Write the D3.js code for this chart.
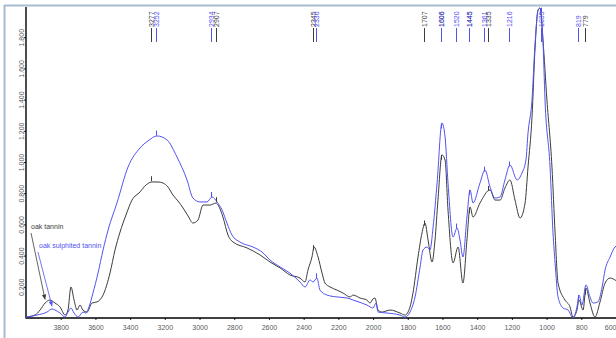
<!DOCTYPE html>
<html>
<head>
<meta charset="utf-8">
<script src="https://cdn.jsdelivr.net/npm/d3@7"></script>
<style>
  body { margin: 0; background: #fff; }
  svg { display: block; font-family: Arial, "Liberation Sans", sans-serif; }
</style>
</head>
<body>
<div id="chart"></div>
<script>
// spectra, [wavenumber cm-1, absorbance]
var oakTannin = [
  [4000,0.006],[3948,0.019],[3919,0.051],[3890,0.096],[3862,0.115],[3833,0.096],[3804,0.071],
  [3775,0.019],[3758,0.051],[3741,0.199],[3723,0.115],[3706,0.051],[3689,0.083],[3672,0.051],
  [3648,0.038],[3620,0.096],[3591,0.103],[3556,0.147],[3516,0.288],[3487,0.436],[3458,0.551],
  [3424,0.660],[3389,0.756],[3343,0.808],[3308,0.853],[3274,0.872],[3239,0.872],[3210,0.865],
  [3182,0.840],[3153,0.788],[3124,0.750],[3095,0.705],[3066,0.654],[3038,0.609],[3009,0.628],
  [2980,0.724],[2940,0.724],[2905,0.737],[2893,0.724],[2865,0.647],[2836,0.532],[2807,0.487],
  [2726,0.449],[2651,0.404],[2594,0.359],[2536,0.321],[2479,0.276],[2421,0.256],[2392,0.231],
  [2375,0.308],[2352,0.391],[2340,0.455],[2317,0.391],[2294,0.288],[2277,0.224],[2248,0.199],
  [2208,0.179],[2173,0.160],[2133,0.135],[2115,0.147],[2075,0.128],[2035,0.115],[2018,0.096],
  [2000,0.122],[1989,0.128],[1971,0.051],[1948,0.038],[1902,0.051],[1845,0.032],[1816,0.019],
  [1787,0.071],[1770,0.160],[1741,0.391],[1718,0.545],[1701,0.609],[1683,0.500],[1660,0.359],
  [1643,0.500],[1626,0.756],[1603,1.045],[1585,1.013],[1568,0.692],[1539,0.353],[1510,0.455],
  [1482,0.224],[1459,0.500],[1441,0.712],[1424,0.647],[1384,0.737],[1326,0.821],[1297,0.756],
  [1268,0.756],[1240,0.833],[1211,0.885],[1182,0.756],[1153,0.641],[1124,0.737],[1107,0.968],
  [1084,1.288],[1067,1.718],[1049,1.974],[1038,1.987],[1021,1.782],[998,1.397],[969,0.968],
  [951,0.545],[934,0.224],[894,0.115],[865,0.071],[848,0.006],[825,0.051],[813,0.115],
  [790,0.051],[773,0.192],[750,0.096],[721,0.006],[692,0.103],[663,0.224],[634,0.256],[600,0.240]
];

var oakSulphited = [
  [4000,0.006],[3937,0.019],[3879,0.038],[3850,0.058],[3833,0.051],[3804,0.032],[3775,0.006],
  [3758,0.038],[3741,0.064],[3723,0.032],[3700,0.006],[3672,0.038],[3654,0.032],[3637,0.071],
  [3614,0.160],[3585,0.288],[3556,0.436],[3527,0.564],[3476,0.737],[3412,0.968],[3343,1.090],
  [3297,1.135],[3245,1.167],[3187,1.141],[3130,1.032],[3072,0.885],[3038,0.769],[2997,0.744],
  [2957,0.744],[2928,0.776],[2899,0.744],[2870,0.692],[2842,0.609],[2813,0.532],[2767,0.487],
  [2692,0.455],[2640,0.423],[2594,0.372],[2536,0.327],[2479,0.288],[2421,0.231],[2392,0.199],
  [2363,0.244],[2346,0.231],[2323,0.256],[2306,0.179],[2265,0.147],[2208,0.135],[2150,0.128],
  [2115,0.115],[2035,0.083],[2000,0.064],[1983,0.096],[1971,0.038],[1920,0.032],[1845,0.019],
  [1816,0.006],[1787,0.038],[1758,0.135],[1729,0.327],[1712,0.436],[1689,0.455],[1672,0.436],
  [1654,0.583],[1631,0.865],[1603,1.250],[1585,1.160],[1568,0.865],[1539,0.519],[1516,0.577],
  [1499,0.500],[1482,0.391],[1459,0.647],[1441,0.821],[1424,0.737],[1384,0.865],[1355,0.949],
  [1326,0.840],[1297,0.769],[1268,0.776],[1240,0.885],[1211,0.981],[1170,0.885],[1142,0.929],
  [1119,1.013],[1107,1.186],[1084,1.397],[1067,1.750],[1049,1.974],[1038,1.987],[1021,1.782],
  [1009,1.397],[980,0.968],[963,0.545],[951,0.353],[934,0.135],[905,0.064],[876,0.051],
  [848,0.000],[825,0.071],[813,0.147],[796,0.083],[773,0.212],[750,0.135],[732,0.096],
  [704,0.103],[680,0.199],[663,0.308],[634,0.391],[606,0.455],[600,0.460]
];

// picked peaks
var oakPeaks = [3277, 2907, 2345, 1707, 1606, 1445, 1335, 779];
var sulphPeaks = [3252, 2934, 2330, 1606, 1520, 1445, 1361, 1216, 1035, 819];

var xTicks = [3800, 3600, 3400, 3200, 3000, 2800, 2600, 2400, 2200, 2000, 1800, 1600, 1400, 1200, 1000, 800, 600];
var yTicks = [0.2, 0.4, 0.6, 0.8, 1.0, 1.2, 1.4, 1.6, 1.8];

// legend labels: name, text anchor and arrow target
var legendNames = ["oak tannin", "oak sulphited tannin"];
var legendText = [[3971, 0.570], [3925, 0.449]];
var legendFrom = [[3971, 0.545], [3931, 0.423]];
var legendTo   = [[3890, 0.118], [3850, 0.075]];

var colors = { oak: "#3c3c3c", sulph: "#5252f2" };

var width = 616, height = 338;
var plot = { left: 26, top: 7, right: 616, bottom: 318 };

var svg = d3.select("#chart").append("svg")
  .attr("width", width)
  .attr("height", height);

// window frame
svg.append("line").attr("x1", 4).attr("x2", width).attr("y1", 5.5).attr("y2", 5.5)
  .attr("stroke", "#a7bccf").attr("stroke-width", 2);
svg.append("line").attr("x1", 4.5).attr("x2", 4.5).attr("y1", 5).attr("y2", height)
  .attr("stroke", "#a7bccf").attr("stroke-width", 2);

// scales
var xScale = d3.scaleLinear().domain([4000, 600]).range([plot.left, plot.right]);
var yScale = d3.scaleLinear().domain([0, 1.8]).range([plot.bottom, plot.bottom - 1.8 * 156]);

svg.append("clipPath").attr("id", "clip")
  .append("rect")
  .attr("x", plot.left).attr("y", plot.top)
  .attr("width", plot.right - plot.left).attr("height", plot.bottom - plot.top);

// axes
var xAxis = d3.axisBottom(xScale).tickValues(xTicks).tickSize(2).tickSizeOuter(0).tickFormat(d3.format("d"));
var yAxis = d3.axisLeft(yScale).tickValues(yTicks).tickSize(2).tickSizeOuter(0).tickFormat(d3.format(".3f"));

var gx = svg.append("g")
  .attr("transform", "translate(0," + plot.bottom + ")")
  .call(xAxis);
gx.select(".domain").remove();
gx.selectAll("text")
  .attr("fill", "#5a5a5a").attr("font-size", 7).attr("dy", "0.95em");
gx.selectAll(".tick").filter(function(d) { return d === 600; })
  .select("text").attr("text-anchor", "end").attr("x", 0);

var gy = svg.append("g")
  .attr("transform", "translate(" + plot.left + ",0)")
  .call(yAxis);
gy.select(".domain").remove();
gy.selectAll("text")
  .attr("fill", "#5a5a5a").attr("font-size", 7)
  .attr("transform", "rotate(-90)")
  .attr("x", 0).attr("y", -2).attr("dy", null)
  .attr("text-anchor", "middle");
svg.selectAll(".tick line").attr("stroke", "#222");

svg.append("line")
  .attr("x1", plot.left).attr("x2", plot.left)
  .attr("y1", plot.top).attr("y2", plot.bottom + 0.5)
  .attr("stroke", "#000").attr("stroke-width", 1.4);
svg.append("line")
  .attr("x1", plot.left).attr("x2", plot.right)
  .attr("y1", plot.bottom).attr("y2", plot.bottom)
  .attr("stroke", "#000").attr("stroke-width", 1.4);

// curves
var line = d3.line()
  .x(function(d) { return xScale(d[0]); })
  .y(function(d) { return yScale(d[1]); })
  .curve(d3.curveMonotoneX);

var cht = svg.append("g").attr("clip-path", "url(#clip)");

var series = [
  { data: oakTannin, peaks: oakPeaks, color: colors.oak },
  { data: oakSulphited, peaks: sulphPeaks, color: colors.sulph }
];

// value at a wavenumber
function valueAt(data, wn) {
  for (var i = 0; i < data.length - 1; i++) {
    var a = data[i], b = data[i + 1];
    if (wn <= a[0] && wn >= b[0]) {
      var t = (a[0] - wn) / (a[0] - b[0]);
      return a[1] + t * (b[1] - a[1]);
    }
  }
  return 0;
}

series.forEach(function(s) {
  cht.append("path")
    .datum(s.data)
    .attr("fill", "none")
    .attr("stroke", s.color)
    .attr("stroke-width", 1)
    .attr("d", line);
});

// peak markers and peak labels
series.forEach(function(s) {
  cht.selectAll(null)
    .data(s.peaks)
    .enter().append("line")
    .attr("x1", function(d) { return Math.round(xScale(d)) + 0.5; })
    .attr("x2", function(d) { return Math.round(xScale(d)) + 0.5; })
    .attr("y1", function(d) { return yScale(valueAt(s.data, d)) - 1; })
    .attr("y2", function(d) { return yScale(valueAt(s.data, d)) - 6; })
    .attr("stroke", s.color)
    .attr("stroke-width", 1);

  var pk = svg.selectAll(null)
    .data(s.peaks)
    .enter().append("g")
    .attr("transform", function(d) { return "translate(" + (Math.round(xScale(d)) + 0.5) + ",0)"; });

  pk.append("line")
    .attr("y1", 28).attr("y2", 42)
    .attr("stroke", s.color)
    .attr("stroke-width", 1);

  pk.append("text")
    .attr("transform", "translate(2.5,27) rotate(-90)")
    .attr("font-size", 7)
    .attr("fill", s.color)
    .text(function(d) { return d; });
});

// legend labels with arrows
var lcol = [colors.oak, colors.sulph];
legendNames.forEach(function(name, i) {
  svg.append("text")
    .attr("x", xScale(legendText[i][0]))
    .attr("y", yScale(legendText[i][1]))
    .attr("font-size", 7)
    .attr("fill", lcol[i])
    .text(name);

  var x1 = xScale(legendFrom[i][0]), y1 = yScale(legendFrom[i][1]);
  var x2 = xScale(legendTo[i][0]), y2 = yScale(legendTo[i][1]);
  svg.append("line")
    .attr("x1", x1).attr("y1", y1).attr("x2", x2).attr("y2", y2)
    .attr("stroke", lcol[i]).attr("stroke-width", 0.8);

  var ang = Math.atan2(y2 - y1, x2 - x1);
  var L = 5, W = 2.2;
  var bx = x2 - L * Math.cos(ang), by = y2 - L * Math.sin(ang);
  svg.append("path")
    .attr("d", "M" + x2 + "," + y2 +
      "L" + (bx - W * Math.sin(ang)) + "," + (by + W * Math.cos(ang)) +
      "L" + (bx + W * Math.sin(ang)) + "," + (by - W * Math.cos(ang)) + "Z")
    .attr("fill", lcol[i]);
});
</script>
</body>
</html>
